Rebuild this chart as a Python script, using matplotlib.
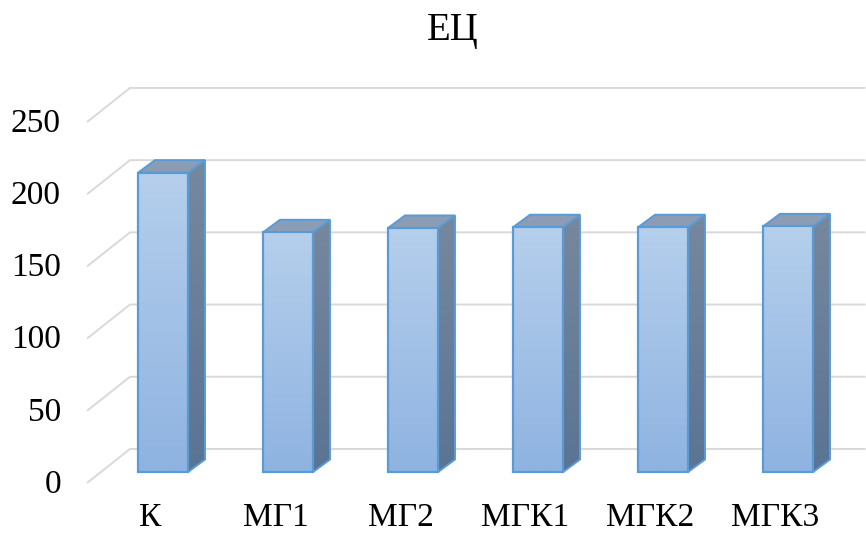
import numpy as np
import matplotlib
matplotlib.use('Agg')
import matplotlib.pyplot as plt
from matplotlib.patches import Polygon, Rectangle
from matplotlib.colors import to_rgb

# chart data
categories = ['К', 'МГ1', 'МГ2', 'МГК1', 'МГК2', 'МГК3']
values = [207.3, 166, 169, 169.5, 169.5, 170.1]
y_ticks = [0, 50, 100, 150, 200, 250]
title = 'ЕЦ'

plt.rcParams['font.family'] = ['Liberation Serif', 'DejaVu Serif']

# 3d look (oblique offsets in data units)
half = 0.2
depth_x, depth_y = 0.136, 8.7     # bar depth
wall_x, wall_y = 0.232, 16.0      # back wall
floor_x, floor_y = -0.112, -7.6   # front edge of floor
left, right = -0.496, 5.62

edge = '#5b9bd5'


def gradient(c_top, c_bot, n=64):
    a = np.array(to_rgb(c_top))
    b = np.array(to_rgb(c_bot))
    t = np.linspace(0, 1, n)[:, None]
    return (a + (b - a) * t)[:, None, :]


def main():
    fig = plt.figure(figsize=(8.66, 5.33), dpi=100)
    ax = fig.add_axes([0, 0, 1, 1])
    ax.axis('off')

    # gridlines on the side and back wall
    for v in y_ticks:
        ax.plot([left + floor_x, left + wall_x, right],
                [v + floor_y, v + wall_y, v + wall_y],
                color='#d9d9d9', lw=1.4, zorder=1, solid_capstyle='butt')
        ax.text(-0.816, v + floor_y - 6.7, str(v), ha='right', va='baseline',
                fontsize=24, color='black')

    front_grad = gradient('#b5cfec', '#8fb3e1')
    side_grad = gradient('#76889e', '#5a7494')

    for i, v in enumerate(values):
        x0, x1 = i - half, i + half

        # side face
        side = Polygon([(x1, 0), (x1 + depth_x, depth_y), (x1 + depth_x, v + depth_y), (x1, v)],
                       closed=True, facecolor='none', edgecolor=edge, lw=1.4, zorder=4)
        ax.add_patch(side)
        im = ax.imshow(side_grad, extent=[x1, x1 + depth_x, 0, v + depth_y],
                       aspect='auto', zorder=3, interpolation='bilinear')
        im.set_clip_path(side)

        # top face
        top = Polygon([(x0, v), (x1, v), (x1 + depth_x, v + depth_y), (x0 + depth_x, v + depth_y)],
                      closed=True, facecolor='#8a9db4', edgecolor=edge, lw=1.4, zorder=4)
        ax.add_patch(top)

        # front face
        front = Rectangle((x0, 0), 2 * half, v, facecolor='none', edgecolor=edge,
                          lw=1.6, zorder=6)
        ax.add_patch(front)
        im = ax.imshow(front_grad, extent=[x0, x1, 0, v], aspect='auto',
                       zorder=5, interpolation='bilinear')
        im.set_clip_path(front)

        # category label
        ax.text(i - 0.1, -41.9, categories[i], ha='center', va='bottom',
                fontsize=24, color='black')

    ax.set_xlim(-1.304, 5.624)
    ax.set_ylim(-42.2, 326.9)

    fig.text(453 / 866, 1 - 40 / 533, title, ha='center', va='baseline',
             fontsize=28, color='black')

    fig.savefig('out.png', dpi=100)


if __name__ == '__main__':
    main()
